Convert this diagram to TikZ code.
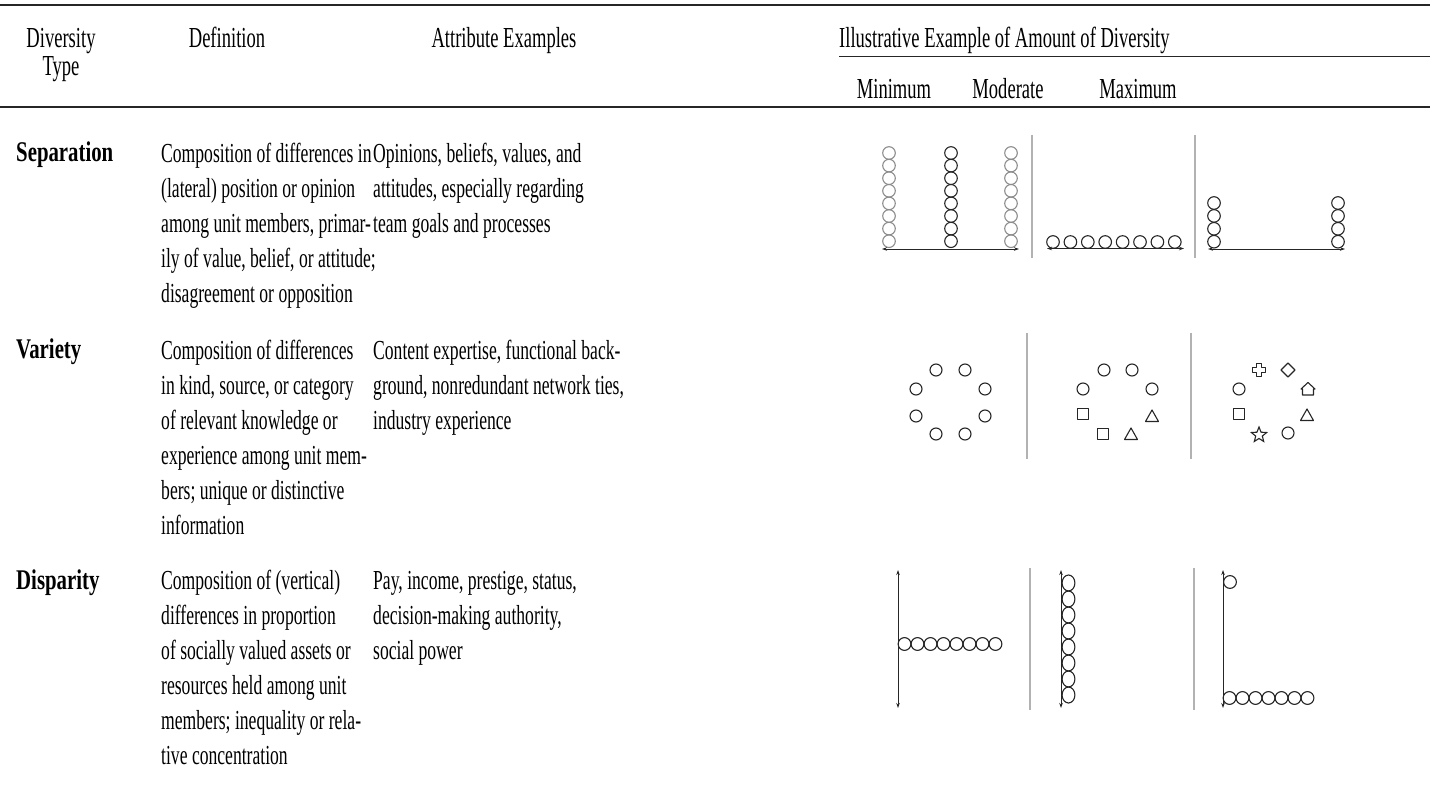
\documentclass[tikz,border=0pt]{standalone}
\usepackage{fontspec}
\setmainfont{Liberation Serif}[FakeStretch=0.64]
\newfontfamily\labelfam{Liberation Serif}[FakeStretch=0.73]
\usetikzlibrary{arrows.meta,shapes.geometric}

\begin{document}
\begin{tikzpicture}[x=1pt,y=-1pt,
  rulethick/.style={line width=1.5pt,black!85},
  rulethin/.style={line width=1pt,black!85},
  headtext/.style={anchor=base,inner sep=0pt,font=\fontsize{29}{28}\selectfont},
  bodytext/.style={anchor=north west,inner sep=0pt,align=left,font=\fontsize{27.5}{35}\selectfont},
  rowlabel/.style={anchor=base west,inner sep=0pt,font=\fontsize{28.5}{35}\labelfam\bfseries},
  sep/.style={line width=2pt,black!30},
  member/.style={line width=1.1pt,black!85},
  faded/.style={line width=1.1pt,black!45},
  axis/.style={line width=0.9pt,black!85,{Stealth[length=5pt,width=3.5pt]}-{Stealth[length=5pt,width=3.5pt]}},
  glyph/.style={line width=1.1pt,black!85,line join=round}]

\useasboundingbox (0,0) rectangle (1430,791);

% ---- table rules ----
\draw[rulethick] (0,5) -- (1430,5);
\draw[rulethin] (839,57) -- (1430,57);
\draw[rulethick] (0,107) -- (1430,107);

% ---- header ----
\node[headtext] (hType1) at (61,48) {Diversity};
\node[headtext] (hType2) at (61,76) {Type};
\node[headtext] (hDef) at (227,48) {Definition};
\node[headtext] (hAttr) at (504,48) {Attribute Examples};
\node[headtext,anchor=base west] (hIll) at (839,48) {Illustrative Example of Amount of Diversity};
\node[headtext] (hMin) at (894,99) {Minimum};
\node[headtext] (hMod) at (1008,99) {Moderate};
\node[headtext] (hMax) at (1138,99) {Maximum};

% ---- row labels (first baselines 162 / 359 / 589) ----
\node[rowlabel] (lSep) at (16,162) {Separation};
\node[rowlabel] (lVar) at (16,359) {Variety};
\node[rowlabel] (lDis) at (16,589) {Disparity};

% ---- definitions (node top = first baseline - 24.5) ----
\node[bodytext] (dSep) at (161,137.5) {\strut Composition of differences in\\\strut (lateral) position or opinion\\\strut among unit members, primar-\\\strut ily of value, belief, or attitude;\\\strut disagreement or opposition};
\node[bodytext] (dVar) at (161,334.5) {\strut Composition of differences\\\strut in kind, source, or category\\\strut of relevant knowledge or\\\strut experience among unit mem-\\\strut bers; unique or distinctive\\\strut information};
\node[bodytext] (dDis) at (161,564.5) {\strut Composition of (vertical)\\\strut differences in proportion\\\strut of socially valued assets or\\\strut resources held among unit\\\strut members; inequality or rela-\\\strut tive concentration};

% ---- attribute examples ----
\node[bodytext] (aSep) at (373,137.5) {\strut Opinions, beliefs, values, and\\\strut attitudes, especially regarding\\\strut team goals and processes};
\node[bodytext] (aVar) at (373,334.5) {\strut Content expertise, functional back-\\\strut ground, nonredundant network ties,\\\strut industry experience};
\node[bodytext] (aDis) at (373,564.5) {\strut Pay, income, prestige, status,\\\strut decision-making authority,\\\strut social power};

% ---- column separators in the illustration area ----
\draw[sep] (1032,135) -- (1032,258);
\draw[sep] (1195,135) -- (1195,258);
\draw[sep] (1027,333) -- (1027,459);
\draw[sep] (1191,333) -- (1191,459);
\draw[sep] (1030,568) -- (1030,710);
\draw[sep] (1194,568) -- (1194,710);

% ================= Separation =================
% minimum: everyone in the middle
\foreach \k in {0,...,7} {
  \draw[faded] (889,153+12.6*\k) circle[radius=6.3];
  \draw[member] (951,153+12.6*\k) circle[radius=6.3];
  \draw[faded] (1011,153+12.6*\k) circle[radius=6.3];
}
\coordinate (sMinL) at (882,249);
\coordinate (sMinR) at (1019,249);
\draw[axis] (sMinL) -- (sMinR);
% moderate: spread evenly along the continuum
\foreach \k in {0,...,7}
  \draw[member] (1053+17.4*\k,242) circle[radius=6.3];
\coordinate (sModL) at (1047,248.5);
\coordinate (sModR) at (1184,248.5);
\draw[axis] (sModL) -- (sModR);
% maximum: two opposing poles
\foreach \k in {0,...,3} {
  \draw[member] (1214,203+12.9*\k) circle[radius=6.3];
  \draw[member] (1338,203+12.9*\k) circle[radius=6.3];
}
\coordinate (sMaxL) at (1208,249);
\coordinate (sMaxR) at (1345,249);
\draw[axis] (sMaxL) -- (sMaxR);

% ================= Variety =================
% minimum: eight identical members
\foreach \px/\py in {936/370,965/370,916/389,985/389,916/416,985/416,936/434,965/434}
  \draw[member] (\px,\py) circle[radius=6];
% moderate: three kinds
\foreach \px/\py in {1104/370,1132/370,1083/389,1152/389}
  \draw[member] (\px,\py) circle[radius=6];
\foreach \px/\py in {1083/414,1103/434}
  \draw[glyph] (\px-5.5,\py-5.5) rectangle (\px+5.5,\py+5.5);
\foreach \px/\py in {1152/416,1131/434}
  \draw[glyph] (\px-6.5,\py+5.5) -- (\px,\py-6) -- (\px+6.5,\py+5.5) -- cycle;
% maximum: every member different
\draw[member] (1239,389) circle[radius=6];
\draw[member] (1288,433) circle[radius=6];
\draw[glyph] (1239-5.5,414-5.5) rectangle (1239+5.5,414+5.5);
\draw[glyph] (1307-6.5,415+5.5) -- (1307,415-6) -- (1307+6.5,415+5.5) -- cycle;
\draw[glyph] (1288,363) -- (1295,370) -- (1288,377) -- (1281,370) -- cycle;
\draw[glyph] (1259-2.7,370-6.5) -- (1259+2.7,370-6.5) -- (1259+2.7,370-2.7) -- (1259+6.5,370-2.7)
  -- (1259+6.5,370+2.7) -- (1259+2.7,370+2.7) -- (1259+2.7,370+6.5) -- (1259-2.7,370+6.5)
  -- (1259-2.7,370+2.7) -- (1259-6.5,370+2.7) -- (1259-6.5,370-2.7) -- (1259-2.7,370-2.7) -- cycle;
\draw[glyph] (1308-5.5,389+6) -- (1308+5.5,389+6) -- (1308+5.5,389) -- (1308+7,389)
  -- (1308,389-6.5) -- (1308-7,389) -- (1308-5.5,389) -- cycle;
\node[star,star points=5,star point ratio=2.3,draw,line width=1.1pt,black!85,
      minimum size=16pt,inner sep=0pt] (vStar) at (1259,435) {};

% ================= Disparity =================
% minimum: everyone at the same level
\coordinate (dMinT) at (898,570);
\coordinate (dMinB) at (898,708);
\draw[axis] (dMinB) -- (dMinT);
\foreach \k in {0,...,7}
  \draw[member] (904.5+13*\k,644) circle[radius=6.4];
% moderate: evenly spread from bottom to top
\coordinate (dModT) at (1061,570);
\coordinate (dModB) at (1061,708);
\draw[axis] (dModB) -- (dModT);
\foreach \k in {0,...,7}
  \draw[member] (1068.5,583+16*\k) ellipse[x radius=6.4,y radius=8];
% maximum: one on top, the rest at the bottom
\coordinate (dMaxT) at (1223,570);
\coordinate (dMaxB) at (1223,708);
\draw[axis] (dMaxB) -- (dMaxT);
\draw[member] (1230,582) circle[radius=6.4];
\foreach \k in {0,...,6}
  \draw[member] (1229.5+13*\k,698) circle[radius=6.4];

\end{tikzpicture}
\end{document}
